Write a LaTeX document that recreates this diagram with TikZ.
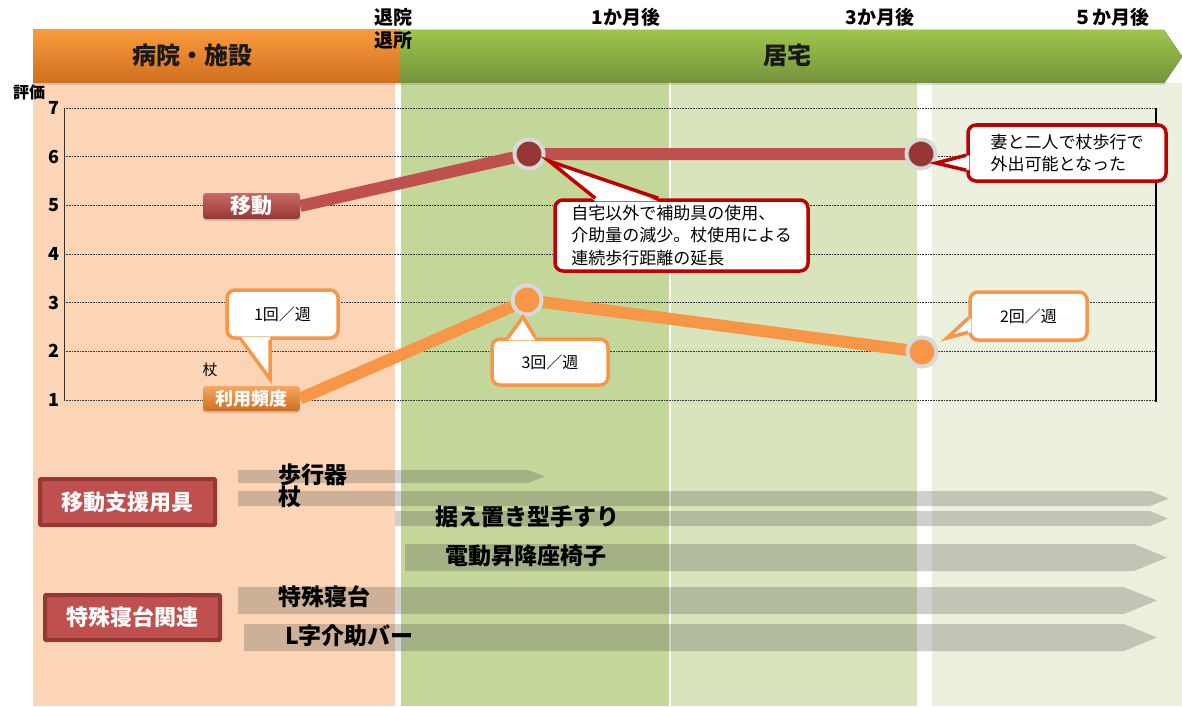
\documentclass[tikz,border=0pt]{standalone}
\usepackage{fontspec}
\setmainfont{Noto Sans CJK JP}
\usepackage{xcolor}
\usepackage{tikz}
\usetikzlibrary{positioning, calc, shadows}

\definecolor{peach}{HTML}{FBD5B5}
\definecolor{greenA}{HTML}{C4D79B}
\definecolor{greenB}{HTML}{D8E4BC}
\definecolor{greenC}{HTML}{EBF1DE}
\definecolor{movered}{HTML}{C0504D}
\definecolor{darkred}{HTML}{953735}
\definecolor{callred}{HTML}{C00000}
\definecolor{useorange}{HTML}{F79646}
\definecolor{ringgray}{HTML}{D9D9D9}
\definecolor{hosptop}{HTML}{FA9A3C}
\definecolor{hospbot}{HTML}{CF6F1F}
\definecolor{hometop}{HTML}{9DC64B}
\definecolor{homebot}{HTML}{76923C}

\tikzset{
    phase/.style={font=\bfseries\fontsize{24}{28}\selectfont, text=black!90},
    timelbl/.style={font=\bfseries\fontsize{19}{23}\selectfont, inner sep=0pt},
    ticklbl/.style={font=\bfseries\fontsize{18}{20}\selectfont, anchor=east, inner sep=0pt},
    gridrule/.style={black!80, line width=0.8pt, dash pattern=on 0.8pt off 0.8pt},
    moveline/.style={movered, line width=12pt},
    useline/.style={useorange, line width=12pt},
    redmark/.style={circle, fill=darkred, draw=ringgray, line width=4pt, minimum size=29pt, inner sep=0pt},
    usemark/.style={circle, fill=useorange, draw=ringgray, line width=4pt, minimum size=29pt, inner sep=0pt},
    movelbl/.style={rounded corners=3pt, top color=movered!85!white, bottom color=darkred, text=white,
        font=\bfseries\fontsize{21}{24}\selectfont, minimum width=97pt, minimum height=26pt, inner sep=0pt,
        drop shadow={opacity=0.3, shadow xshift=0pt, shadow yshift=-2pt}},
    uselbl/.style={rounded corners=3pt, top color=useorange!85!white, bottom color=hospbot, text=white,
        font=\bfseries\fontsize{18}{22}\selectfont, minimum width=97pt, minimum height=25pt, inner sep=0pt,
        drop shadow={opacity=0.3, shadow xshift=0pt, shadow yshift=-2pt}},
    redbubble/.style={draw=callred, line width=3.5pt, fill=white, rounded corners=8pt, align=left,
        font=\fontsize{17}{22.5}\selectfont, inner sep=0pt},
    orangebubble/.style={draw=useorange, line width=3.5pt, fill=white, rounded corners=8pt,
        font=\fontsize{16}{20}\selectfont, inner sep=0pt},
    redpointer/.style={draw=callred, line width=3.5pt},
    orangepointer/.style={draw=useorange, line width=3.5pt},
    supportbar/.style={fill=black!72, fill opacity=0.26},
    barlbl/.style={font=\bfseries\fontsize{23}{25}\selectfont, anchor=west, inner sep=0pt},
    catbox/.style={fill=movered, draw=darkred, line width=4pt, text=white, rounded corners=1pt,
        font=\bfseries\fontsize{22}{24}\selectfont, minimum width=175pt, minimum height=46pt, inner sep=0pt}
}

\begin{document}
\begin{tikzpicture}[x=1pt, y=-1pt]
    \fill[white] (0,0) rectangle (1182,706);
    \useasboundingbox (0,0) rectangle (1182,706);

    % Background columns (hospital, 1 month, 3 months, 5 months)
    \fill[peach] (33,83) rectangle (395,706);
    \fill[greenA] (401,83) rectangle (669,706);
    \fill[greenB] (671,83) rectangle (917,706);
    \fill[greenC] (932,83) rectangle (1182,706);

    % Header bars
    \fill[top color=hosptop, bottom color=hospbot, drop shadow={opacity=0.25, shadow xshift=0pt, shadow yshift=-2pt}]
        (33,30) rectangle (400,83);
    \fill[top color=hometop, bottom color=homebot, drop shadow={opacity=0.25, shadow xshift=0pt, shadow yshift=-2pt}]
        (400,30) -- (1164,30) -- (1182,56.5) -- (1164,83) -- (400,83) -- cycle;
    \node[phase] (hosp) at (192,55) {病院・施設};
    \node[phase] (home) at (787,55) {居宅};

    % Time labels
    \node[timelbl] (leave1) at (393,17) {退院};
    \node[timelbl, below=5pt of leave1] (leave2) {退所};
    \node[timelbl] (month1) at (626,17) {1か月後};
    \node[timelbl] (month3) at (880,17) {3か月後};
    \node[timelbl] (month5) at (1111,17) {５か月後};

    % Axis labels
    \node[font=\bfseries\fontsize{16}{18}\selectfont, inner sep=0pt] (score) at (29,92) {評価};
    \node[ticklbl] (tick7) at (60,108) {7};
    \node[ticklbl] (tick6) at (60,156.7) {6};
    \node[ticklbl] (tick5) at (60,205.3) {5};
    \node[ticklbl] (tick4) at (60,254) {4};
    \node[ticklbl] (tick3) at (60,302.7) {3};
    \node[ticklbl] (tick2) at (60,351.3) {2};
    \node[ticklbl] (tick1) at (60,400) {1};

    % Grid lines
    \draw[gridrule] (64,108) -- (1156,108);
    \draw[gridrule] (64,156.7) -- (1156,156.7);
    \draw[gridrule] (64,205.3) -- (1156,205.3);
    \draw[gridrule] (64,254) -- (1156,254);
    \draw[gridrule] (64,302.7) -- (1156,302.7);
    \draw[gridrule] (64,351.3) -- (1156,351.3);
    \draw[gridrule] (64,400) -- (1156,400);
    \draw[black!80, line width=1pt] (64,108) -- (64,400);
    \draw[black, line width=1.8pt] (1156,108) -- (1156,402);

    % Data points
    \coordinate (mv1) at (529,154);
    \coordinate (mv2) at (921,154);
    \coordinate (us1) at (527,300);
    \coordinate (us2) at (922,352);

    % Series labels
    \node[movelbl] (move) at (251.5,206) {移動};
    \node[uselbl] (usage) at (251.5,398.5) {利用頻度};
    \node[font=\fontsize{15}{17}\selectfont, inner sep=0pt] (cane) at (210,370) {杖};

    % Series lines
    \draw[moveline] (move.east) -- (mv1) -- (mv2);
    \draw[useline] (usage.east) -- (us1) -- (us2);
    \node[redmark] (mvdot1) at (mv1) {};
    \node[redmark] (mvdot2) at (mv2) {};
    \node[usemark] (usdot1) at (us1) {};
    \node[usemark] (usdot2) at (us2) {};

    % Callout for walking aids at 1 month
    \node[redbubble, minimum width=253pt, minimum height=71pt] (help) at (681.5,235.5)
        {自宅以外で補助具の使用、\\介助量の減少。杖使用による\\連続歩行距離の延長};
    \coordinate (helptip) at (549,161);
    \fill[white] ($(help.north west)+(42,3)$) -- (helptip) -- ($(help.north west)+(105,3)$) -- cycle;
    \draw[redpointer] ($(help.north west)+(42,0)$) -- (helptip) -- ($(help.north west)+(105,0)$);

    % Callout for going out at 3 months
    \node[redbubble, minimum width=198pt, minimum height=56pt] (outing) at (1067,153)
        {妻と二人で杖歩行で\\外出可能となった};
    \coordinate (outingtip) at (936,163);
    \fill[white] ($(outing.north west)+(3,32)$) -- (outingtip) -- ($(outing.north west)+(3,47)$) -- cycle;
    \draw[redpointer] ($(outing.north west)+(0,32)$) -- (outingtip) -- ($(outing.north west)+(0,47)$);

    % Callout for usage before discharge
    \node[orangebubble, minimum width=111pt, minimum height=48pt] (once) at (282.5,314) {1回／週};
    \coordinate (oncetip) at (270,379);
    \fill[white] ($(once.south west)+(16,-3)$) -- (oncetip) -- ($(once.south west)+(45,-3)$) -- cycle;
    \draw[orangepointer] ($(once.south west)+(16,0)$) -- (oncetip) -- ($(once.south west)+(45,0)$);

    % Callout for usage at 1 month
    \node[orangebubble, minimum width=116pt, minimum height=46pt] (thrice) at (550,362) {3回／週};
    \coordinate (thricetip) at (523,317);
    \fill[white] ($(thrice.north west)+(18,3)$) -- (thricetip) -- ($(thrice.north west)+(45,3)$) -- cycle;
    \draw[orangepointer] ($(thrice.north west)+(18,0)$) -- (thricetip) -- ($(thrice.north west)+(45,0)$);

    % Callout for usage at 3 months
    \node[orangebubble, minimum width=117pt, minimum height=48pt] (twice) at (1028.5,316) {2回／週};
    \coordinate (twicetip) at (947,338);
    \fill[white] ($(twice.north west)+(3,28)$) -- (twicetip) -- ($(twice.north west)+(3,42)$) -- cycle;
    \draw[orangepointer] ($(twice.north west)+(0,28)$) -- (twicetip) -- ($(twice.north west)+(0,42)$);

    % Bar for walker
    \fill[supportbar] (238,470) -- (528,470) -- (545,476.5) -- (528,483) -- (238,483) -- cycle;
    % Bar for cane
    \fill[supportbar] (238,491) -- (1150,491) -- (1169,498.5) -- (1150,506) -- (238,506) -- cycle;
    % Bar for standing handrail
    \fill[supportbar] (395,511) -- (1150,511) -- (1168,518.5) -- (1150,526) -- (395,526) -- cycle;
    % Bar for electric lift chair
    \fill[supportbar] (405,544) -- (1134,544) -- (1167,557.5) -- (1134,571) -- (405,571) -- cycle;
    % Bar for special bed
    \fill[supportbar] (238,587) -- (1124,587) -- (1157,600.5) -- (1124,614) -- (238,614) -- cycle;
    % Bar for L-shaped grab bar
    \fill[supportbar] (244,624) -- (1124,624) -- (1157,637.5) -- (1124,651) -- (244,651) -- cycle;

    % Bar labels
    \node[barlbl] (walker) at (278,475) {歩行器};
    \node[barlbl] (stick) at (278,497) {杖};
    \node[barlbl] (rail) at (435,517) {据え置き型手すり};
    \node[barlbl] (chair) at (445,556) {電動昇降座椅子};
    \node[barlbl] (bed) at (278,597) {特殊寝台};
    \node[barlbl] (grab) at (285,636) {L字介助バー};

    % Category boxes
    \node[catbox] (aids) at (127.5,502) {移動支援用具};
    \node[catbox, minimum height=45pt] (beds) at (132.5,617.5) {特殊寝台関連};
\end{tikzpicture}
\end{document}
